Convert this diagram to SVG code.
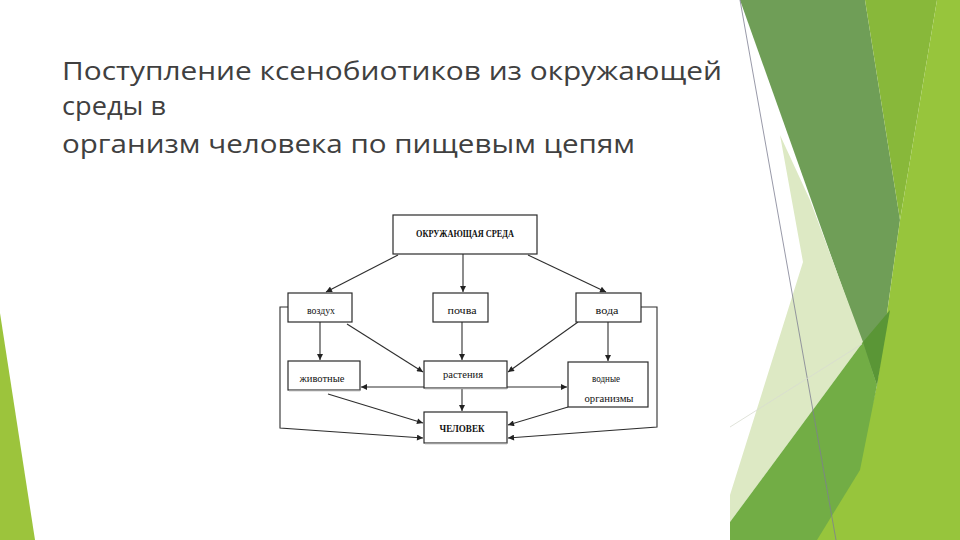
<svg xmlns="http://www.w3.org/2000/svg" width="960" height="540" viewBox="0 0 960 540">
<defs>
<style>
.title{font-family:"Open Sans","DejaVu Sans",sans-serif;font-size:25px;fill:#404040;}
.box{fill:#ffffff;stroke:#2a2a2a;stroke-width:1.2;}
.shadow{fill:none;stroke:#9a9a9a;stroke-width:1.5;}
.lbl{font-family:"Liberation Serif",serif;font-size:9.5px;fill:#111;text-anchor:middle;}
.lblb{font-family:"Liberation Serif",serif;font-size:10.5px;font-weight:bold;fill:#111;text-anchor:middle;}
.con{fill:none;stroke:#2e2e2e;stroke-width:1.1;}
</style>
<marker id="ah" viewBox="0 0 10 10" refX="10" refY="5" markerWidth="8" markerHeight="6" markerUnits="userSpaceOnUse" orient="auto">
<path d="M0,0 L10,5 L0,10 z" fill="#222"/>
</marker>
</defs>
<rect width="960" height="540" fill="#ffffff"/>
<g id="background">
<polygon points="0,313 35,540 0,540" fill="#9cc43c"/>
<polygon points="740,0 865,0 900,220 877,385" fill="#6f9e57"/>
<polygon points="865,0 937,0 900,220" fill="#88b83a"/>
<polygon points="937,0 960,0 960,540 815,540 857,470 877,385 900,220" fill="#97c53c"/>
<polygon points="780,135 810,200 863,342 730,522 730,495 803,262" fill="#dde9c4"/>
<polygon points="863,342 877,385 860,470 817,540 730,540 730,522" fill="#72ad45"/>
<polygon points="863,342 890,310 877,385" fill="#5a9636"/>
<line x1="740" y1="0" x2="836" y2="540" stroke="#7d7f92" stroke-width="0.8"/>
<line x1="730" y1="427" x2="862" y2="344" stroke="#d8dcd0" stroke-width="0.8"/>
</g>
<g id="title">
<text class="title" x="62" y="80" textLength="660" lengthAdjust="spacingAndGlyphs">Поступление ксенобиотиков из окружающей</text>
<text class="title" x="62" y="115" textLength="104" lengthAdjust="spacingAndGlyphs">среды в</text>
<text class="title" x="62" y="153" textLength="573" lengthAdjust="spacingAndGlyphs">организм человека по пищевым цепям</text>
</g>
<g id="connectors">
<path class="con" d="M398,255 L326,292" marker-end="url(#ah)"/>
<path class="con" d="M463,254 L463,292" marker-end="url(#ah)"/>
<path class="con" d="M528,255 L606,292" marker-end="url(#ah)"/>
<path class="con" d="M320,322 L320,360" marker-end="url(#ah)"/>
<path class="con" d="M347,324 L423,372" marker-end="url(#ah)"/>
<path class="con" d="M462,322 L462,360" marker-end="url(#ah)"/>
<path class="con" d="M578,322 L508,372" marker-end="url(#ah)"/>
<path class="con" d="M608,322 L608,361" marker-end="url(#ah)"/>
<path class="con" d="M424,387 L361,387" marker-end="url(#ah)"/>
<path class="con" d="M507,387 L567,387" marker-end="url(#ah)"/>
<path class="con" d="M462,389 L462,411" marker-end="url(#ah)"/>
<path class="con" d="M328,394 L423,423" marker-end="url(#ah)"/>
<path class="con" d="M568,407 L508,425" marker-end="url(#ah)"/>
<path class="con" d="M288,307 L280,307 L280,428 L423,438" marker-end="url(#ah)"/>
<path class="con" d="M641,307 L657,307 L657,427 L508,438" marker-end="url(#ah)"/>
</g>
<g id="node-env">
<rect class="box" x="393" y="215" width="144" height="39"/>
<text class="lblb" x="465" y="237" textLength="98" lengthAdjust="spacingAndGlyphs">ОКРУЖАЮЩАЯ СРЕДА</text>
</g>
<g id="node-air">
<rect class="box" x="288" y="293" width="64" height="29"/>
<text class="lbl" x="321" y="314" textLength="28" lengthAdjust="spacingAndGlyphs">воздух</text>
</g>
<g id="node-soil">
<rect class="box" x="433" y="293" width="55" height="29"/>
<text class="lbl" x="462" y="314" textLength="29" lengthAdjust="spacingAndGlyphs">почва</text>
</g>
<g id="node-water">
<rect class="box" x="576" y="293" width="65" height="29"/>
<text class="lbl" x="607" y="314" textLength="23" lengthAdjust="spacingAndGlyphs">вода</text>
</g>
<g id="node-animals">
<rect class="box" x="288" y="361" width="72" height="29"/>
<line class="shadow" x1="289" y1="390.5" x2="360" y2="390.5"/>
<text class="lbl" x="322" y="382" textLength="45" lengthAdjust="spacingAndGlyphs">животные</text>
</g>
<g id="node-plants">
<rect class="box" x="424" y="361" width="83" height="27"/>
<line class="shadow" x1="425" y1="388.5" x2="507" y2="388.5"/>
<text class="lbl" x="463" y="378" textLength="40" lengthAdjust="spacingAndGlyphs">растения</text>
</g>
<g id="node-aquatic">
<rect class="box" x="568" y="362" width="80" height="45"/>
<text class="lbl" x="606" y="382" textLength="28" lengthAdjust="spacingAndGlyphs">водные</text>
<text class="lbl" x="609" y="402" textLength="49" lengthAdjust="spacingAndGlyphs">организмы</text>
</g>
<g id="node-human">
<rect class="box" x="424" y="412" width="83" height="31"/>
<line class="shadow" x1="425" y1="443.5" x2="507" y2="443.5"/>
<text class="lblb" x="462" y="432" textLength="45" lengthAdjust="spacingAndGlyphs">ЧЕЛОВЕК</text>
</g>
</svg>
